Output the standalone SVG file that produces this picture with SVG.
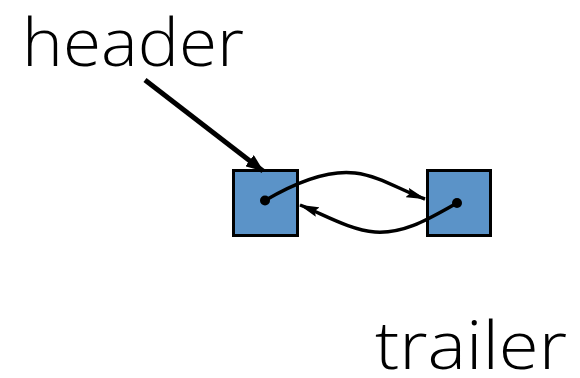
<svg xmlns="http://www.w3.org/2000/svg" width="580" height="378" viewBox="0 0 580 378">
  <style>
    .label { font-family: "Open Sans", Lato, sans-serif; font-weight: 300; font-size: 66px; fill: #000; }
    .node rect { fill: #5b93c8; stroke: #000; stroke-width: 3; }
    .node circle { fill: #000; }
    .link { fill: none; stroke: #000; stroke-width: 3.5; }
  </style>
  <defs>
    <marker id="head" viewBox="0 0 20 10" refX="19" refY="5" markerWidth="20" markerHeight="10" orient="auto" markerUnits="userSpaceOnUse">
      <path d="M0,0 L20,5 L0,10 L3,5 Z" fill="#000"/>
    </marker>
    <marker id="headBig" viewBox="0 0 18 14" refX="17" refY="7" markerWidth="18" markerHeight="14" orient="auto" markerUnits="userSpaceOnUse">
      <path d="M0,0 L18,7 L0,14 Z" fill="#000"/>
    </marker>
  </defs>

  <text class="label" x="22" y="66" textLength="222" lengthAdjust="spacingAndGlyphs">header</text>
  <text class="label" x="375" y="369" textLength="192" lengthAdjust="spacingAndGlyphs">trailer</text>

  <g id="first" class="node">
    <rect x="233.5" y="170.5" width="64" height="65"/>
    <circle cx="265" cy="200.5" r="5"/>
  </g>
  <g id="last" class="node">
    <rect x="427.5" y="170.5" width="63" height="65"/>
    <circle cx="457" cy="203" r="5"/>
  </g>

  <g id="connectors">
    <line class="link" x1="145" y1="80" x2="263" y2="171" style="stroke-width:5" marker-end="url(#headBig)"/>
    <path class="link" d="M265,200.5 C300,180 330,170 355,173 C380,176 400,190 425,199" marker-end="url(#head)"/>
    <path class="link" d="M457,203 C430,218 405,234 375,232 C350,230 325,215 300,205" marker-end="url(#head)"/>
  </g>
</svg>
